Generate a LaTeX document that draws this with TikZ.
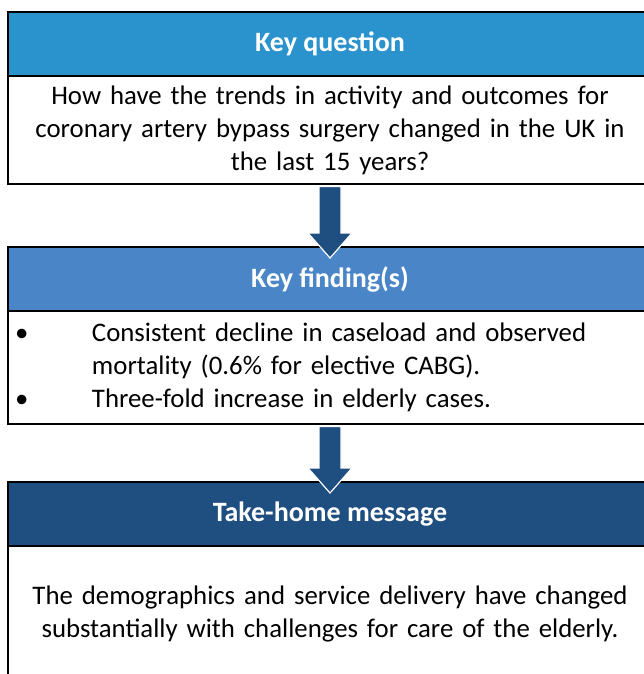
\documentclass[tikz,border=0pt]{standalone}
\usepackage{fontspec}
\setmainfont{Carlito}
\usetikzlibrary{calc}

\definecolor{hdrsky}{RGB}{42,146,204}
\definecolor{hdrmid}{RGB}{74,134,199}
\definecolor{hdrnavy}{RGB}{31,78,128}
\definecolor{arrownavy}{RGB}{31,78,128}

% block arrow pointing down from one box into the header of the next
\newcommand\flowdown[2]{%
  \filldraw[flowarrow]
    ($(#1.south)+(-11pt,-1.6pt)$) -- ($(#2.north)+(-11pt,13pt)$)
    -- ($(#2.north)+(-22pt,13pt)$) -- ($(#2.north)+(0pt,-12pt)$)
    -- ($(#2.north)+(22pt,13pt)$) -- ($(#2.north)+(11pt,13pt)$)
    -- ($(#1.south)+(11pt,-1.6pt)$) -- cycle;}

\begin{document}
\begin{tikzpicture}[x=1pt,y=-1pt,
  boxline/.style={draw=black, line width=2pt},
  header/.style={boxline, rectangle, minimum width=644pt, minimum height=64pt,
    inner sep=0pt, text=white, font=\fontsize{28}{32}\selectfont\bfseries},
  body/.style={boxline, rectangle, fill=white, minimum width=644pt,
    inner sep=0pt, font=\fontsize{26.8}{33}\selectfont},
  flowarrow/.style={fill=arrownavy, draw=white, line width=1.2pt, line join=miter}
]
\useasboundingbox (0,0) rectangle (644,674);
\clip (0,0) rectangle (644,674);

% question box
\node[header, fill=hdrsky] (qhead) at (330,44) {Key question};
\node[body, minimum height=108pt, text width=630pt, align=center] (qbody) at (330,130)
  {How have the trends in activity and outcomes for\\
   coronary artery bypass surgery changed in the UK in\\
   the last 15 years?};

% findings box
\node[header, fill=hdrmid] (fhead) at (330,279) {Key finding(s)};
\node[body, minimum height=113pt, text width=630pt, align=left] (fbody) at (330,367.5)
  {\makebox[77pt][l]{\textbullet}Consistent decline in caseload and observed\\
   \hspace*{77pt}mortality (0.6\% for elective CABG).\\
   \makebox[77pt][l]{\textbullet}Three-fold increase in elderly cases.};

% message box
\node[header, fill=hdrnavy] (mhead) at (330,514) {Take-home message};
\node[body, minimum height=154pt, text width=636pt, align=center] (mbody) at (330,623)
  {\raisebox{0pt}{}\\[-33pt]The demographics and service delivery have changed\\
   substantially with challenges for care of the elderly.\\[60pt]};

% connectors
\flowdown{qbody}{fhead}
\flowdown{fbody}{mhead}
\end{tikzpicture}
\end{document}
